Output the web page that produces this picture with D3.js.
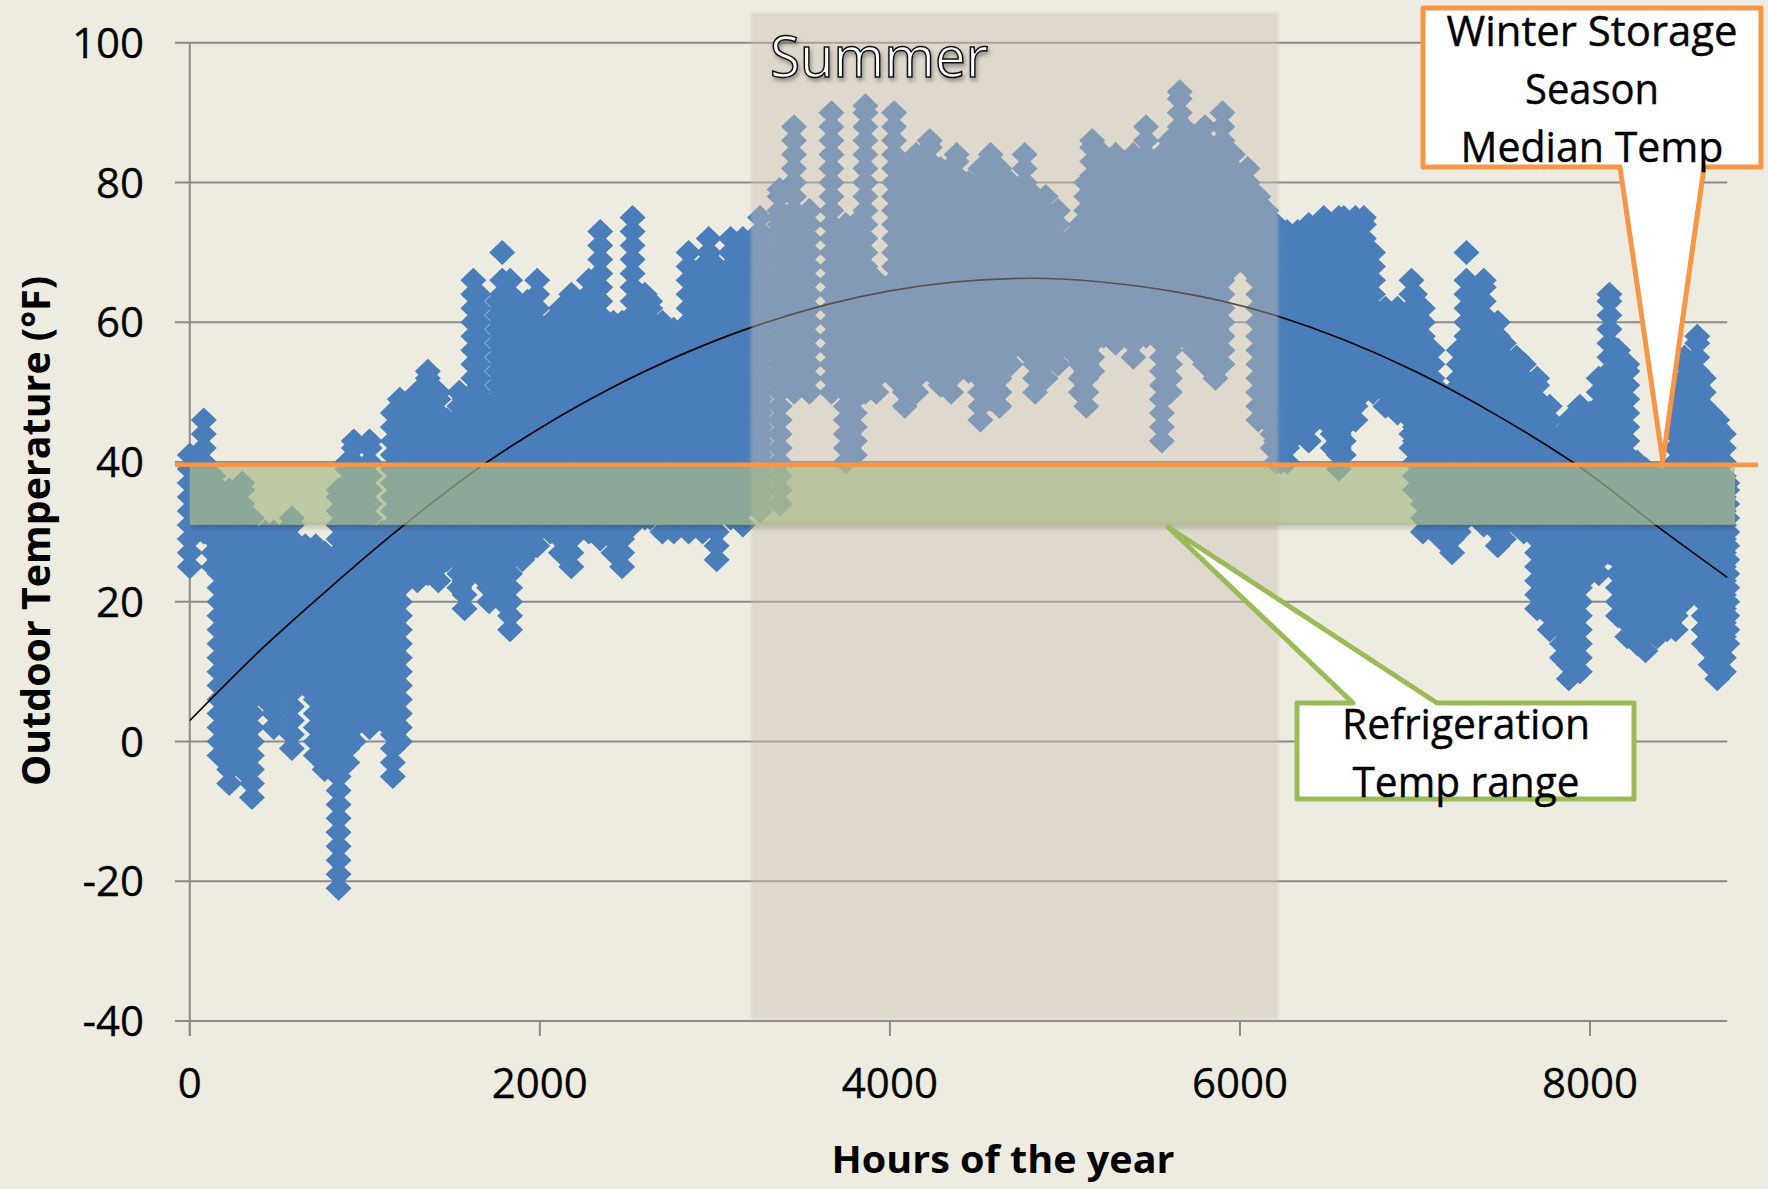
<!DOCTYPE html>
<html><head><meta charset="utf-8">
<script src="https://cdn.jsdelivr.net/npm/d3@7"></script>
<style>html,body{margin:0;background:#EEECE1}svg{display:block}text{font-family:"Open Sans",sans-serif;fill:#000}</style>
</head><body><svg id="c" width="1768" height="1189"></svg>
<script>
const columnHours=[0,80,135,170,225,300,355,430,480,583,660,720,770,850,900,937,1027,1100,1160,1200,1300,1360,1420,1470,1540,1570,1620,1650,1710,1760,1785,1830,1900,1930,1985,2060,2120,2180,2280,2345,2420,2470,2530,2600,2630,2700,2765,2850,2930,2965,3010,3090,3160,3258,3370,3452,3540,3666,3748,3800,3860,3922,4024,4085,4150,4228,4290,4350,4381,4450,4517,4575,4626,4690,4770,4830,4890,4960,5030,5090,5122,5156,5220,5290,5391,5463,5554,5600,5656,5677,5740,5800,5860,5900,5960,6044,6105,6150,6186,6207,6231,6269,6330,6393,6479,6530,6565,6593,6660,6708,6760,6831,6900,6980,7000,7045,7100,7150,7212,7250,7294,7393,7473,7508,7580,7622,7698,7770,7840,7879,7942,8000,8050,8111,8160,8213,8270,8317,8384,8440,8489,8540,8613,8650,8689,8727,8765,8784];
const columnHigh=[41,46,38,36,36,37,32,30,30,32,28,28,27,36,40,43,43,30,47,49,50,53,50,46,50,49,66,64,48,63,66,66,50,63,66,60,62,64,66,73,60,60,75,64,63,60,59,70,68,72,68,72,72,75,79,88,76,90,74,74,91,66,90,82,84,86,82,80,84,80,82,84,82,80,84,78,78,76,72,74,80,86,84,84,84,88,84,86,93,88,86,88,84,90,84,82,78,76,74,74,73,73,73,74,75,74,75,75,75,75,70,62,62,66,64,62,56,50,50,56,66,66,60,57,55,54,52,48,44,46,48,47,52,64,56,54,40,39,38,38,50,55,58,52,47,46,44,37];
const columnLow=[25,30,25,-2,-6,-4,-8,6,2,-1,8,-2,-4,-21,-3,0,2,3,-5,0,23,24,23,26,22,19,26,24,20,21,20,16,26,27,28,30,27,25,30,29,27,25,31,32,32,30,30,30,30,32,26,32,31,33,34,50,50,50,40,41,50,50,52,48,50,53,51,50,53,53,46,49,48,54,56,50,52,54,56,50,48,53,58,57,55,58,43,50,58,58,56,54,52,54,68,68,46,46,42,40,40,40,44,43,46,42,39,41,46,50,50,48,47,42,36,30,32,29,27,30,32,31,28,29,31,30,19,16,12,9,10,24,24,27,18,15,14,13,15,16,16,20,21,14,11,9,10,14];
const isolatedHours=[1785,7294];
const isolatedTemps=[70,70];
const trendHours=[0,400,800,1200,1700,2400,3200,4000,4800,5600,6200,7000,7900,8400,8784];
const trendTemps=[3,13,22,30.5,40,50.5,59.2,64.5,66.3,64.5,61,53,40,30.5,23.5];
const xTickValues=[0,2000,4000,6000,8000];
const yTickValues=[-40,-20,0,20,40,60,80,100];
const winterLines=["Winter Storage","Season","Median Temp"];
const winterWidths=[291,134,263];
const fridgeLines=["Refrigeration","Temp range"];
const fridgeWidths=[248,227];

const x=d3.scaleLinear().domain([0,8000]).range([189.8,1590]);
const y=d3.scaleLinear().domain([-40,100]).range([1021,42.8]);
const svg=d3.select("#c");
const defs=svg.append("defs");
const blur=defs.append("filter").attr("id","soft").attr("x","-5%").attr("y","-5%").attr("width","110%").attr("height","110%");
blur.append("feGaussianBlur").attr("stdDeviation",1.4);
const blur2=defs.append("filter").attr("id","soft2").attr("x","-5%").attr("y","-300%").attr("width","110%").attr("height","700%");
blur2.append("feGaussianBlur").attr("stdDeviation",2);
const sh=defs.append("filter").attr("id","shadow").attr("x","-10%").attr("y","-20%").attr("width","120%").attr("height","160%");
sh.append("feDropShadow").attr("dx",1.5).attr("dy",3).attr("stdDeviation",2).attr("flood-color","#000").attr("flood-opacity",.35);
svg.append("rect").attr("width",1768).attr("height",1189).attr("fill","#EEECE1");

const gridCol="#8A8A8A";
svg.append("g").selectAll("line").data(yTickValues).join("line")
 .attr("x1",175).attr("x2",x(8784)).attr("y1",d=>y(d)).attr("y2",d=>y(d)).attr("stroke",gridCol).attr("stroke-width",2);
svg.append("line").attr("x1",x(0)).attr("x2",x(0)).attr("y1",y(100)).attr("y2",1036).attr("stroke",gridCol).attr("stroke-width",2);
svg.append("g").selectAll("line").data(xTickValues).join("line")
 .attr("x1",d=>x(d)).attr("x2",d=>x(d)).attr("y1",y(-40)).attr("y2",1036).attr("stroke",gridCol).attr("stroke-width",2);

// Diamonds: each hour column is a stack of temperature readings
const pts=[];
columnHours.forEach((h,i)=>{
  for(let t=columnLow[i];t<=columnHigh[i];t+=1){
    const onStep=(t-columnLow[i])%2===0||t===columnHigh[i];
    const prevOk=i>0&&columnHours[i]-columnHours[i-1]<=120&&t>=columnLow[i-1]&&t<=columnHigh[i-1];
    const nextOk=i<columnHours.length-1&&columnHours[i+1]-columnHours[i]<=120&&t>=columnLow[i+1]&&t<=columnHigh[i+1];
    if(onStep||(prevOk&&nextOk))pts.push([h,t]);
  }
});
isolatedHours.forEach((h,i)=>pts.push([h,isolatedTemps[i]]));
const diamond={draw(c,s){const a=Math.sqrt(s)/2;c.moveTo(0,-a);c.lineTo(a*1.04,0);c.lineTo(0,a);c.lineTo(-a*1.04,0);c.closePath();}};
const sym=d3.symbol().type(diamond).size(625);
svg.append("g").selectAll("path").data(pts).join("path").attr("d",sym)
 .attr("transform",d=>`translate(${x(d[0])},${y(d[1])})`).attr("fill","#4A7EBB");

// Trend
svg.append("path").attr("fill","none").attr("stroke","#000").attr("stroke-width",1.6)
 .attr("d",d3.line().x(d=>x(d[0])).y(d=>y(d[1])).curve(d3.curveCatmullRom)(trendHours.map((h,i)=>[h,trendTemps[i]])));

// Summer band
svg.append("rect").attr("x",x(3205)).attr("width",x(6220)-x(3205)).attr("y",12.5).attr("height",1007)
 .attr("fill","#CDBDB0").attr("fill-opacity",.43).attr("filter","url(#soft)");
svg.append("text").attr("x",879).attr("y",77).attr("text-anchor","middle").attr("font-size",56)
 .attr("textLength",218).attr("lengthAdjust","spacingAndGlyphs")
 .style("fill","#fff").attr("stroke","#111").attr("stroke-width",1.5).attr("filter","url(#shadow)").text("Summer");

// Refrigeration band & median line
svg.append("rect").attr("x",x(0)+2).attr("width",1735-x(0)).attr("y",y(31)-1).attr("height",4)
 .attr("fill","#000").attr("fill-opacity",.22).attr("filter","url(#soft2)");
svg.append("rect").attr("x",x(0)).attr("width",1735-x(0)).attr("y",y(39.4)).attr("height",y(31)-y(39.4))
 .attr("fill","#A8BA8A").attr("fill-opacity",.7);
svg.append("line").attr("x1",175).attr("x2",1758).attr("y1",y(39.6)).attr("y2",y(39.6)).attr("stroke","#F79646").attr("stroke-width",4.5);

// Tick labels
const tick=sel=>sel.attr("font-size",42).attr("stroke","#000").attr("stroke-width",.3);
svg.append("g").selectAll("text").data(yTickValues).join("text").attr("x",144).attr("y",d=>y(d)+15)
 .attr("text-anchor","end").call(tick).text(d=>d);
svg.append("g").selectAll("text").data(xTickValues).join("text").attr("x",d=>x(d)).attr("y",1098)
 .attr("text-anchor","middle").call(tick).text(d=>d);
svg.append("text").attr("x",1003).attr("y",1173).attr("text-anchor","middle").attr("font-size",38).attr("font-weight",700)
 .attr("textLength",343).attr("lengthAdjust","spacingAndGlyphs").text("Hours of the year");
svg.append("text").attr("transform","translate(50,531) rotate(-90)").attr("text-anchor","middle").attr("font-size",39).attr("font-weight",700)
 .attr("textLength",510).attr("lengthAdjust","spacingAndGlyphs").text("Outdoor Temperature (°F)");

// Callouts
const callout=(pts,col,w)=>svg.append("path").attr("d",d3.line()(pts)+"Z").attr("fill","#fff").attr("stroke",col)
 .attr("stroke-width",w).attr("stroke-linejoin","round");
callout([[1423,8],[1761,8],[1761,167],[1704,167],[1662.7,461],[1620,167],[1423,167]],"#F79646",5);
winterLines.forEach((t,i)=>svg.append("text").attr("x",1592).attr("y",46+58*i).attr("text-anchor","middle").attr("font-size",42)
 .attr("stroke","#000").attr("stroke-width",.4)
 .attr("textLength",winterWidths[i]).attr("lengthAdjust","spacingAndGlyphs").text(t));
callout([[1297,703],[1353,703],[1168,527],[1437,703],[1634,703],[1634,799],[1297,799]],"#9BBB59",5);
fridgeLines.forEach((t,i)=>svg.append("text").attr("x",1466).attr("y",739+58*i).attr("text-anchor","middle").attr("font-size",42)
 .attr("stroke","#000").attr("stroke-width",.4)
 .attr("textLength",fridgeWidths[i]).attr("lengthAdjust","spacingAndGlyphs").text(t));
</script></body></html>
